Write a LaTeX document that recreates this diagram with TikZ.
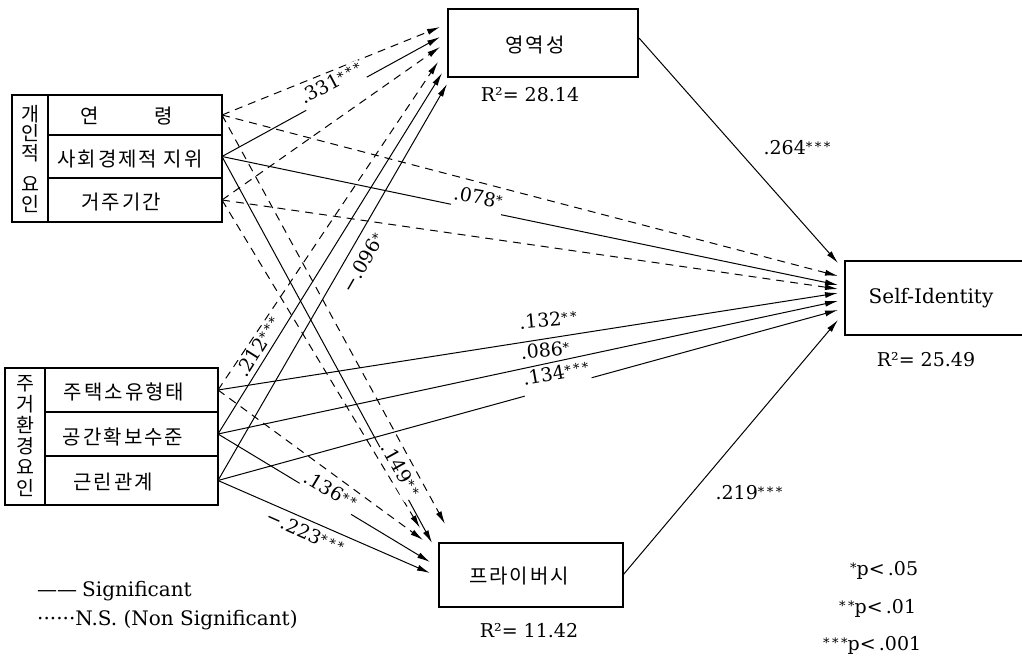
\documentclass[tikz,border=0pt]{standalone}
\usepackage{fontspec}
\setmainfont{DejaVu Serif}
\newfontfamily\kr[LetterSpace=10]{Noto Sans CJK KR}
\newfontfamily\krv{Noto Sans CJK KR}
\usetikzlibrary{arrows.meta,calc}
\newcommand\st{\raisebox{3pt}{\fontsize{13}{13}\selectfont *}}
\newcommand\stone{\st}
\newcommand\sttwo{\st\kern2.5pt\st}
\newcommand\stthree{\st\kern2.5pt\st\kern2.5pt\st}
\begin{document}
\begin{tikzpicture}[x=1pt,y=-1pt,
  cell/.style={draw, line width=1.2pt, inner sep=0pt, outer sep=0pt},
  sig/.style={line width=1pt, -{Latex[length=13pt,width=6pt]}},
  ns/.style={sig, dash pattern=on 8pt off 6pt},
  kt/.style={font=\kr\fontsize{20}{24}\selectfont, inner sep=0pt},
  vt/.style={align=center},
  num/.style={font=\fontsize{19}{22}\selectfont, inner sep=1pt},
  gapl/.style={num, fill=white, anchor=base, text depth=11pt},
  lat/.style={font=\fontsize{19}{22}\selectfont, inner sep=0pt}]
\useasboundingbox (0,0) rectangle (1022,656);

% ---- left upper group
\node[cell, minimum width=36pt, minimum height=127pt, vt,
      font=\krv\fontsize{19.5}{19.5}\selectfont] (pers) at (30,158.5) {개\\인\\적\\[12pt]요\\인};
\node[cell, minimum width=174pt, minimum height=40pt] (age) at (135,115) {};
\node[cell, minimum width=174pt, minimum height=43pt] (ses) at (135,156.5) {};
\node[cell, minimum width=174pt, minimum height=44pt] (res) at (135,200) {};
\node[kt] (tage) at (126.5,116) {연\hspace{56pt}령};
\node[kt] (tses) at (130,159) {사회경제적 지위};
\node[kt] (tres) at (121,202) {거주기간};

% ---- left lower group
\node[cell, minimum width=40pt, minimum height=137pt, vt,
      font=\krv\fontsize{19.5}{21}\selectfont] (env) at (25,436.5) {주\\거\\환\\경\\요\\인};
\node[cell, minimum width=173pt, minimum height=44pt] (hown) at (131.5,390) {};
\node[cell, minimum width=173pt, minimum height=44pt] (spc) at (131.5,434) {};
\node[cell, minimum width=173pt, minimum height=49pt] (neigh) at (131.5,480.5) {};
\node[kt] (thown) at (124,392) {주택소유형태};
\node[kt] (tspc) at (123,437) {공간확보수준};
\node[kt] (tneigh) at (113,482) {근린관계};

% ---- mediators and outcome
\node[cell, minimum width=190pt, minimum height=68pt] (ter) at (543,43) {};
\node[kt] (tter) at (535,45) {영역성};
\node[lat] (r1) at (530,95) {R²= 28.14};

\node[cell, minimum width=184pt, minimum height=64pt] (priv) at (531,575) {};
\node[kt] (tpriv) at (519,576) {프라이버시};
\node[lat] (r3) at (529,631) {R²= 11.42};

\node[inner sep=0pt, outer sep=0pt, minimum width=177pt, minimum height=74pt] (si) at (933.5,298) {};
\draw[line width=1.2pt] (si.north east) -- (si.north west) -- (si.south west) -- (si.south east);
\node[lat, font=\fontsize{20}{24}\selectfont] (tsi) at (931,298) {Self-Identity};
\node[lat] (r2) at (926,360) {R²= 25.49};

% ---- arrow end points
\coordinate (tA) at (440,27);
\coordinate (tB) at (440,37);
\coordinate (tC) at (440,47);
\coordinate (tD) at (438,62);
\coordinate (tE) at (442,73);
\coordinate (tF) at (447,84);
\coordinate (sA) at (838,263);
\coordinate (sB) at (838,276);
\coordinate (sC) at (838,285);
\coordinate (sD) at (838,289);
\coordinate (sE) at (838,293);
\coordinate (sF) at (838,301);
\coordinate (sG) at (838,310);
\coordinate (sH) at (838,320);
\coordinate (pA) at (445,524);
\coordinate (pB) at (420,528);
\coordinate (pC) at (423,540);
\coordinate (pD) at (432,543);
\coordinate (pE) at (430,562);
\coordinate (pF) at (430,573);

% ---- connectors
\draw[ns] (age.east) -- (tA);
\draw[ns] (age.east) -- (sB);
\draw[ns] (age.east) -- (pA);
\draw[sig] (ses.east) -- (tB);
\draw[sig] (ses.east) -- (sC);
\draw[sig] (ses.east) -- (pD);
\draw[ns] (res.east) -- (tC);
\draw[ns] (res.east) -- (sD);
\draw[ns] (res.east) -- (pB);
\draw[ns] (hown.east) -- (tD);
\draw[sig] (hown.east) -- (sE);
\draw[ns] (hown.east) -- (pC);
\draw[sig] (spc.east) -- (tE);
\draw[sig] (spc.east) -- (sF);
\draw[sig] (spc.east) -- (pE);
\draw[sig] (neigh.east) -- (tF);
\draw[sig] (neigh.east) -- (sG);
\draw[sig] (neigh.east) -- (pF);
\draw[sig] ($(ter.east)+(1,-5)$) -- (sA);
\draw[sig] (priv.east) -- (sH);

% ---- coefficient labels
\node[gapl, rotate=28] (l331) at (334,89) {.331\stthree};
\node[gapl, rotate=-10] (l078) at (477,204) {.078\stone};
\node[gapl, rotate=-61, text depth=5pt] (l149) at (395,473) {.149\sttwo};
\node[gapl, rotate=-31, text depth=8pt] (l136) at (327,496) {.136\sttwo};
\node[gapl, rotate=10] (l134) at (557,380) {.134\stthree};
\node[num, rotate=58] (l212) at (258,347) {.212\stthree};
\node[num, rotate=60] (l096) at (363,263) {−.096\stone};
\node[num, rotate=5] (l132) at (548,320) {.132\sttwo};
\node[num, rotate=5] (l086) at (545,350) {.086\stone};
\node[num, rotate=-24] (l223) at (305,532) {−.223\stthree};
\node[num] (l264) at (797,148) {.264\stthree};
\node[num] (l219) at (749,493) {.219\stthree};

% ---- legends
\node[lat, anchor=base west] (p1) at (850,575) {\stone p<\,.05};
\node[lat, anchor=base west] (p2) at (839,613) {\sttwo p<\,.01};
\node[lat, anchor=base west] (p3) at (823,650) {\stthree p<\,.001};
\node[font=\fontsize{20}{24}\selectfont, inner sep=0pt, anchor=base west] (lg1) at (37,596) {——\hspace{5pt}Significant};
\node[font=\fontsize{20}{24}\selectfont, inner sep=0pt, anchor=base west] (lg2) at (37,625) {······N.S. (Non Significant)};
\end{tikzpicture}
\end{document}
